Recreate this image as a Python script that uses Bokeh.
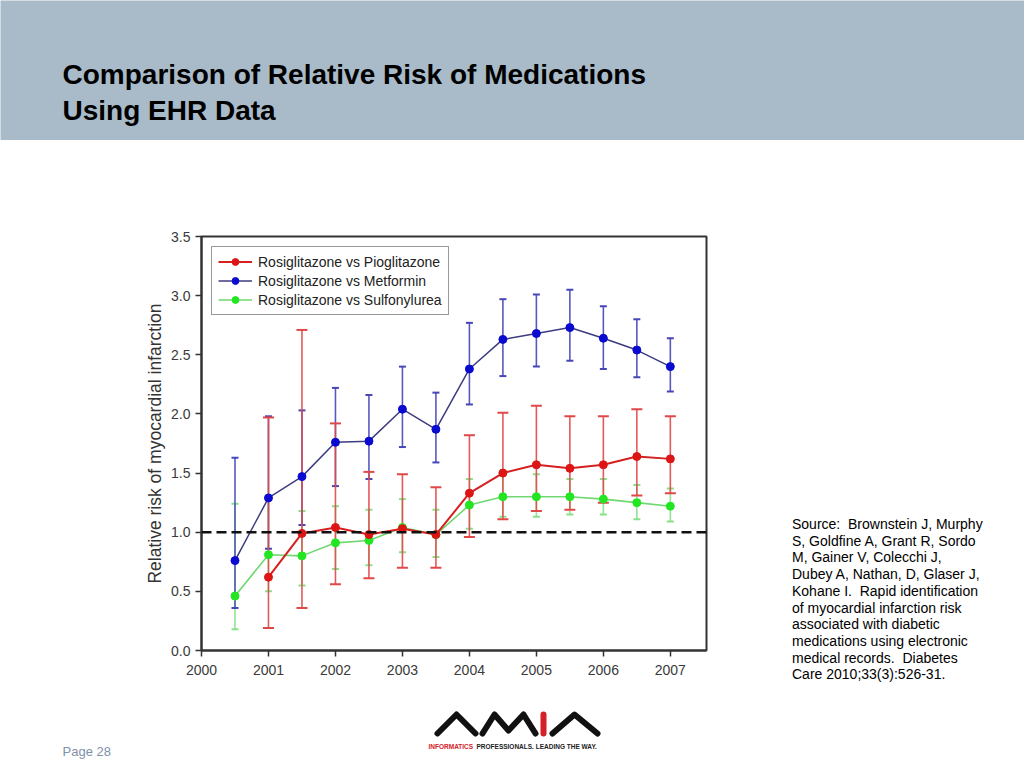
from bokeh.plotting import figure
from bokeh.models import (Range1d, FixedTicker, Whisker, TeeHead, ColumnDataSource,
                          Span, Legend, LegendItem, Div)
from bokeh.layouts import column, row
from bokeh.embed import file_html
from bokeh.resources import INLINE
from bokeh.core.properties import value

# ---------------- data ----------------
years = [2000.5, 2001, 2001.5, 2002, 2002.5, 2003, 2003.5,
         2004, 2004.5, 2005, 2005.5, 2006, 2006.5, 2007]
years_pio = years[1:]

metformin    = [0.76, 1.29, 1.47, 1.76, 1.77, 2.04, 1.87, 2.38, 2.63, 2.68, 2.73, 2.64, 2.54, 2.40]
metformin_hi = [1.63, 1.98, 2.03, 2.22, 2.16, 2.40, 2.18, 2.77, 2.97, 3.01, 3.05, 2.91, 2.80, 2.64]
metformin_lo = [0.36, 0.86, 1.06, 1.39, 1.45, 1.72, 1.59, 2.08, 2.32, 2.40, 2.45, 2.38, 2.31, 2.19]

pioglitazone    = [0.62, 0.99, 1.04, 0.98, 1.03, 0.98, 1.33, 1.50, 1.57, 1.54, 1.57, 1.64, 1.62]
pioglitazone_hi = [1.97, 2.71, 1.92, 1.51, 1.49, 1.38, 1.82, 2.01, 2.07, 1.98, 1.98, 2.04, 1.98]
pioglitazone_lo = [0.19, 0.36, 0.56, 0.61, 0.70, 0.70, 0.96, 1.11, 1.18, 1.19, 1.25, 1.31, 1.33]

sulfonylurea    = [0.46, 0.81, 0.80, 0.91, 0.93, 1.04, 0.98, 1.23, 1.30, 1.30, 1.30, 1.28, 1.25, 1.22]
sulfonylurea_hi = [1.24, 1.28, 1.18, 1.22, 1.19, 1.28, 1.19, 1.45, 1.50, 1.49, 1.45, 1.45, 1.40, 1.37]
sulfonylurea_lo = [0.18, 0.50, 0.55, 0.69, 0.72, 0.83, 0.79, 1.03, 1.13, 1.13, 1.15, 1.15, 1.11, 1.09]

series_labels = ["Rosiglitazone vs Pioglitazone",
                 "Rosiglitazone vs Metformin",
                 "Rosiglitazone vs Sulfonylurea"]
x_ticks = [2000, 2001, 2002, 2003, 2004, 2005, 2006, 2007]
y_ticks = [0.0, 0.5, 1.0, 1.5, 2.0, 2.5, 3.0, 3.5]
y_tick_labels = ["0.0", "0.5", "1.0", "1.5", "2.0", "2.5", "3.0", "3.5"]
reference_rr = 1.0

title_lines = ["Comparison of Relative Risk of Medications", "Using EHR Data"]
source_lines = ["Source:  Brownstein J, Murphy",
                "S, Goldfine A, Grant R, Sordo",
                "M, Gainer V, Colecchi J,",
                "Dubey A, Nathan, D, Glaser J,",
                "Kohane I.  Rapid identification",
                "of myocardial infarction risk",
                "associated with diabetic",
                "medications using electronic",
                "medical records.  Diabetes",
                "Care 2010;33(3):526-31."]
page_label = "Page 28"

FONT = "Liberation Sans"

# ---------------- header (page y 0..140) ----------------
header = figure(width=1024, height=140, x_range=Range1d(0, 1024), y_range=Range1d(140, 0),
                output_backend="svg", toolbar_location=None,
                x_axis_type=None, y_axis_type=None, min_border=0)
header.outline_line_color = None
header.background_fill_color = "#a9bbc9"
header.border_fill_color = "#a9bbc9"
header.grid.visible = False
header.text(x=[62, 62], y=[74, 110], text=title_lines,
            text_font=value(FONT), text_font_size="28px", text_font_style="bold",
            text_color="#000000", text_baseline="alphabetic", text_align="left")

# ---------------- chart (page y 140..690, x 0..752) ----------------
p = figure(width=752, height=550, x_range=Range1d(2000, 2007.54), y_range=Range1d(0, 3.5),
           output_backend="svg", toolbar_location=None,
           min_border_left=201, min_border_right=46, min_border_top=96, min_border_bottom=40)
p.grid.visible = False
p.background_fill_color = "#ffffff"
p.border_fill_color = "#ffffff"
p.outline_line_color = "#333333"
p.outline_line_width = 2

p.xaxis.ticker = FixedTicker(ticks=x_ticks)
p.yaxis.ticker = FixedTicker(ticks=y_ticks)
p.yaxis.major_label_overrides = {t: l for t, l in zip(y_ticks, y_tick_labels)}
p.xaxis.major_label_overrides = {t: str(t) for t in x_ticks}
for ax in (p.xaxis, p.yaxis):
    ax.axis_line_color = "#333333"
    ax.axis_line_width = 2
    ax.major_tick_line_color = "#333333"
    ax.major_tick_line_width = 1.5
    ax.major_tick_out = 6
    ax.major_tick_in = 0
    ax.minor_tick_line_color = None
    ax.major_label_text_font = FONT
    ax.major_label_text_font_size = "14px"
    ax.major_label_text_color = "#3a3a3a"
p.xaxis.major_label_standoff = 8
p.yaxis.axis_label = "Relative risk of myocardial infarction"
p.yaxis.axis_label_text_font = FONT
p.yaxis.axis_label_text_font_size = "17.5px"
p.yaxis.axis_label_text_font_style = "normal"
p.yaxis.axis_label_text_color = "#333333"
p.yaxis.axis_label_standoff = 3

p.add_layout(Span(location=reference_rr, dimension="width", line_color="#111111",
                  line_width=2.5, line_dash="10 5"))

def add_series(xs, ys, lo, hi, pt_color, ln_color, wk_color, ln_width, cap):
    src = ColumnDataSource(dict(x=xs, y=ys, lo=lo, hi=hi))
    wk = Whisker(base="x", lower="lo", upper="hi", source=src,
                 line_color=wk_color, line_width=1.6, line_alpha=0.9,
                 upper_head=TeeHead(size=cap, line_color=wk_color, line_width=2),
                 lower_head=TeeHead(size=cap, line_color=wk_color, line_width=2))
    p.add_layout(wk)
    ln = p.line("x", "y", source=src, line_color=ln_color, line_width=ln_width)
    sc = p.scatter("x", "y", source=src, marker="circle", size=8,
                   fill_color=pt_color, line_color=pt_color)
    return ln, sc

g_ln, g_sc = add_series(years, sulfonylurea, sulfonylurea_lo, sulfonylurea_hi,
                        "#22e622", "#70d870", "#88e088", 1.6, 7)
b_ln, b_sc = add_series(years, metformin, metformin_lo, metformin_hi,
                        "#0a0ad0", "#3c3c80", "#4646b8", 1.5, 7)
r_ln, r_sc = add_series(years_pio, pioglitazone, pioglitazone_lo, pioglitazone_hi,
                        "#dd1515", "#d42020", "#e04848", 2, 11)

legend = Legend(items=[LegendItem(label=series_labels[0], renderers=[r_ln, r_sc]),
                       LegendItem(label=series_labels[1], renderers=[b_ln, b_sc]),
                       LegendItem(label=series_labels[2], renderers=[g_ln, g_sc])],
                location="top_left", margin=10, padding=6, spacing=2,
                glyph_width=34, glyph_height=17, label_height=17, label_standoff=6,
                label_text_font=FONT, label_text_font_size="14px",
                label_text_color="#222222",
                border_line_color="#333333", border_line_width=1,
                background_fill_color="#ffffff", background_fill_alpha=1)
p.add_layout(legend)

# ---------------- source text (page x 752..1024, y 140..690) ----------------
source_html = ('<div style="position:absolute; left:40px; top:376px; white-space:pre; '
               'font-family:\'Liberation Sans\', Arial, sans-serif; font-size:14px; '
               'line-height:16.7px; color:#000000;">'
               + "<br>".join(source_lines) + "</div>")
side = Div(text=source_html, width=272, height=550,
           styles={"position": "relative", "margin": "0", "padding": "0"})

# ---------------- footer (page y 690..760) ----------------
footer = figure(width=1024, height=70, x_range=Range1d(0, 1024), y_range=Range1d(760, 690),
                output_backend="svg", toolbar_location=None,
                x_axis_type=None, y_axis_type=None, min_border=0)
footer.outline_line_color = None
footer.grid.visible = False
footer.text(x=[62], y=[751], text=[page_label], text_font=value(FONT),
            text_font_size="13px", text_color="#8090a6", text_baseline="middle")
footer.multi_line(xs=[[437, 456, 475], [482, 494, 508, 523, 535], [552, 574, 597]],
                  ys=[[733, 714, 733], [733, 714, 730, 714, 733], [733, 714, 733]],
                  line_color="#111111", line_width=6, line_cap="round", line_join="round")
footer.line(x=[543, 543], y=[714, 733], line_color="#d42027", line_width=6, line_cap="round")
footer.text(x=[428], y=[746], text=["INFORMATICS"], text_font=value(FONT),
            text_font_size="6.5px", text_font_style="bold", text_color="#d42027",
            text_baseline="middle")
footer.text(x=[476], y=[746], text=["PROFESSIONALS. LEADING THE WAY."], text_font=value(FONT),
            text_font_size="6.5px", text_font_style="bold", text_color="#222222",
            text_baseline="middle")

layout = column(header, row(p, side), footer)
open("out.html", "w").write(file_html(layout, INLINE))
